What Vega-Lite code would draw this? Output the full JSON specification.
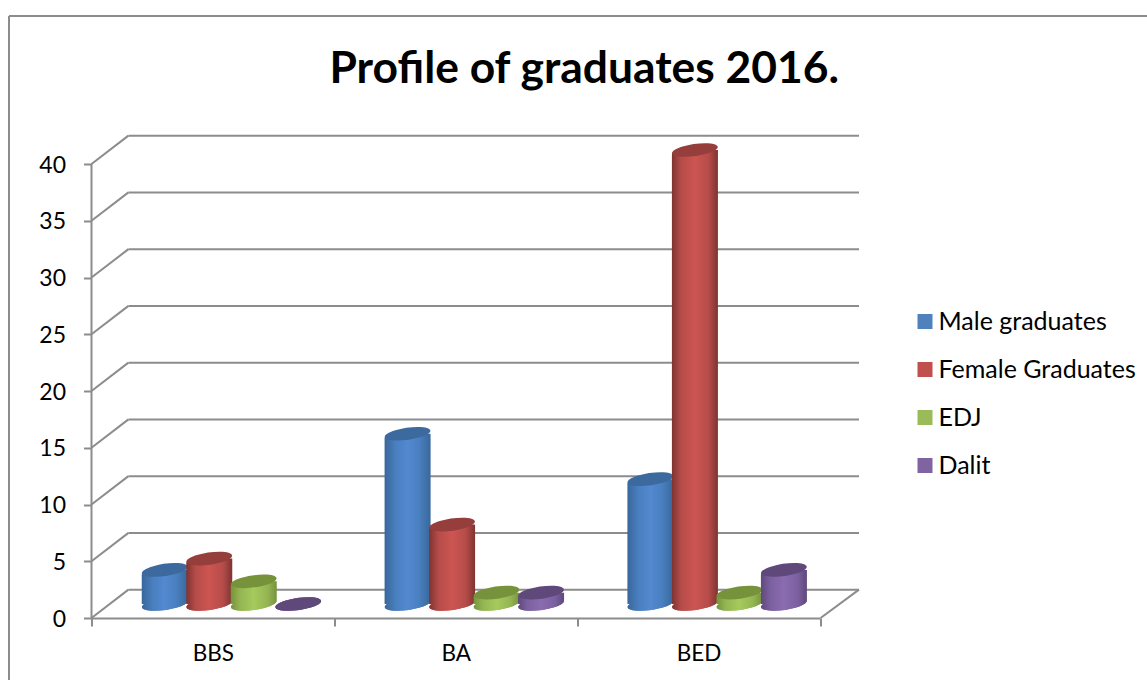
{"$schema":"https://vega.github.io/schema/vega-lite/v6.json","width":767.5,"height":482,"autosize":{"type":"none"},"padding":{"left":91.5,"top":136,"right":288,"bottom":62},"background":"white","title":{"text":"Profile of graduates 2016.","font":"Lato","fontSize":44.4,"fontWeight":"bold","color":"#000000","anchor":"middle","frame":"group","dx":109,"offset":0,"dy":77},"config":{"view":{"stroke":null}},"datasets":{"graduates":[{"category":"BBS","series":"Male graduates","value":3},{"category":"BBS","series":"Female Graduates","value":4},{"category":"BBS","series":"EDJ","value":2},{"category":"BBS","series":"Dalit","value":0},{"category":"BA","series":"Male graduates","value":15},{"category":"BA","series":"Female Graduates","value":7},{"category":"BA","series":"EDJ","value":1},{"category":"BA","series":"Dalit","value":1},{"category":"BED","series":"Male graduates","value":11},{"category":"BED","series":"Female Graduates","value":40},{"category":"BED","series":"EDJ","value":1},{"category":"BED","series":"Dalit","value":3}],"grid":[{"tick":0,"back":2.5},{"tick":5,"back":7.5},{"tick":10,"back":12.5},{"tick":15,"back":17.5},{"tick":20,"back":22.5},{"tick":25,"back":27.5},{"tick":30,"back":32.5},{"tick":35,"back":37.5},{"tick":40,"back":42.5}],"floor":[{"tick":0,"back":2.5}],"frame":[{"left":-0.3395,"right":5,"top":53.04,"bottom":-10}],"axisline":[{"low":0,"high":40}]},"layer":[{"data":{"name":"frame"},"mark":{"type":"rule","color":"#8c8c8c","strokeWidth":2},"encoding":{"x":{"field":"left","type":"quantitative","scale":{"domain":[0,3.158],"range":[0,767.5]},"axis":null},"y":{"field":"top","type":"quantitative","scale":{"domain":[0,42.47],"range":[482,0]},"axis":null},"y2":{"field":"bottom"}}},{"data":{"name":"frame"},"mark":{"type":"rule","color":"#8c8c8c","strokeWidth":2},"encoding":{"x":{"field":"left","type":"quantitative","scale":{"domain":[0,3.158],"range":[0,767.5]},"axis":null},"x2":{"field":"right"},"y":{"field":"top","type":"quantitative","scale":{"domain":[0,42.47],"range":[482,0]},"axis":null}}},{"data":{"name":"grid"},"mark":{"type":"rule","color":"#8c8c8c","strokeWidth":2},"encoding":{"x":{"datum":0,"type":"quantitative","scale":{"domain":[0,3.158],"range":[0,767.5]},"axis":null},"x2":{"datum":0.152},"y":{"field":"tick","type":"quantitative","scale":{"domain":[0,42.47],"range":[482,0]},"axis":{"values":[0,5,10,15,20,25,30,35,40],"title":null,"domain":false,"grid":false,"tickColor":"#8c8c8c","tickWidth":2,"tickSize":8,"labelFont":"Lato","labelFontSize":23,"labelColor":"#000000","labelPadding":18,"labelOffset":1}},"y2":{"field":"back"}}},{"data":{"name":"grid"},"mark":{"type":"rule","color":"#8c8c8c","strokeWidth":2},"encoding":{"x":{"datum":0.152,"type":"quantitative","scale":{"domain":[0,3.158],"range":[0,767.5]},"axis":null},"x2":{"datum":3.158},"y":{"field":"back","type":"quantitative","scale":{"domain":[0,42.47],"range":[482,0]},"axis":null}}},{"data":{"name":"axisline"},"mark":{"type":"rule","color":"#8c8c8c","strokeWidth":2},"encoding":{"x":{"datum":0,"type":"quantitative","scale":{"domain":[0,3.158],"range":[0,767.5]},"axis":null},"y":{"field":"low","type":"quantitative","scale":{"domain":[0,42.47],"range":[482,0]},"axis":null},"y2":{"field":"high"}}},{"data":{"name":"floor"},"mark":{"type":"rule","color":"#8c8c8c","strokeWidth":2},"encoding":{"x":{"datum":3,"type":"quantitative","scale":{"domain":[0,3.158],"range":[0,767.5]},"axis":null},"x2":{"datum":3.158},"y":{"field":"tick","type":"quantitative","scale":{"domain":[0,42.47],"range":[482,0]},"axis":null},"y2":{"field":"back"}}},
{"data":{"name":"graduates"},"mark":{"type":"point","filled":true,"opacity":1,"strokeWidth":0,"size":2116,"shape":"M-0.99,0.14A1,0.26,-8,1,1,0.99,-0.14A1,0.26,-8,1,1,-0.99,0.14Z"},"encoding":{"x":{"field":"category","type":"nominal","sort":null,"scale":{"type":"band","domain":["BBS","BA","BED"],"range":[0,728.5],"paddingInner":0,"paddingOuter":0},"axis":{"title":null,"domainColor":"#8c8c8c","domainWidth":2,"tickColor":"#8c8c8c","tickWidth":2,"tickSize":8,"tickBand":"extent","labelAngle":0,"labelFont":"Lato","labelFontSize":22.5,"labelColor":"#000000","labelPadding":16}},"xOffset":{"field":"series","type":"nominal","scale":{"type":"band","domain":["Male graduates","Female Graduates","EDJ","Dalit"],"range":[51,229],"paddingInner":0,"paddingOuter":0}},"y":{"datum":0,"type":"quantitative","scale":{"domain":[0,42.47],"range":[468,-14]},"axis":null},"color":{"field":"series","type":"nominal","scale":{"domain":["Male graduates","Female Graduates","EDJ","Dalit"],"range":["#4f81bd","#c0504d","#9bbb59","#8064a2"]},"legend":{"title":null,"orient":"none","legendX":821,"legendY":173,"symbolType":"square","symbolSize":225,"symbolStrokeWidth":0,"labelFont":"Lato","labelFontSize":25,"labelColor":"#000000","labelOffset":1,"rowPadding":22,"clipHeight":25,"labelLimit":260}}}},
{"data":{"name":"graduates"},"transform":[{"filter":"datum.series === 'Male graduates'"}],"layer":[
{"mark":{"type":"point","filled":true,"opacity":1,"strokeWidth":0,"size":2116,"shape":"M-0.99,0.14A1,0.26,-8,1,1,0.99,-0.14A1,0.26,-8,1,1,-0.99,0.14Z","fill":{"gradient":"linear","x1":0,"y1":0,"x2":1,"y2":0,"stops":[{"offset":0,"color":"#38679b"},{"offset":0.25,"color":"#4a80c0"},{"offset":0.5,"color":"#5289d0"},{"offset":0.75,"color":"#4a80c0"},{"offset":1,"color":"#38679b"}]}},"encoding":{"y":{"datum":0,"type":"quantitative","scale":{"domain":[0,42.47],"range":[468,-14]},"axis":null}}},
{"mark":{"type":"bar","width":46,"cornerRadiusTopLeft":5,"cornerRadiusBottomRight":5,"fill":{"gradient":"linear","x1":0,"y1":0,"x2":1,"y2":0,"stops":[{"offset":0,"color":"#38679b"},{"offset":0.25,"color":"#4a80c0"},{"offset":0.5,"color":"#5289d0"},{"offset":0.75,"color":"#4a80c0"},{"offset":1,"color":"#38679b"}]}},"encoding":{"y":{"field":"value","type":"quantitative","stack":null,"scale":{"domain":[0,42.47],"range":[468,-14]},"axis":null}}},
{"mark":{"type":"point","filled":true,"opacity":1,"strokeWidth":0,"size":2116,"shape":"M-0.99,0.14A1,0.26,-8,1,1,0.99,-0.14A1,0.26,-8,1,1,-0.99,0.14Z","fill":"#3c6a9e"},"encoding":{"y":{"field":"value","type":"quantitative","scale":{"domain":[0,42.47],"range":[468,-14]},"axis":null}}}],
"encoding":{"x":{"field":"category","type":"nominal","sort":null,"scale":{"type":"band","domain":["BBS","BA","BED"],"range":[0,728.5],"paddingInner":0,"paddingOuter":0},"axis":null},"xOffset":{"field":"series","type":"nominal","scale":{"type":"band","domain":["Male graduates","Female Graduates","EDJ","Dalit"],"range":[51,229],"paddingInner":0,"paddingOuter":0}}}},
{"data":{"name":"graduates"},"transform":[{"filter":"datum.series === 'Female Graduates'"}],"layer":[
{"mark":{"type":"point","filled":true,"opacity":1,"strokeWidth":0,"size":2116,"shape":"M-0.99,0.14A1,0.26,-8,1,1,0.99,-0.14A1,0.26,-8,1,1,-0.99,0.14Z","fill":{"gradient":"linear","x1":0,"y1":0,"x2":1,"y2":0,"stops":[{"offset":0,"color":"#7f3331"},{"offset":0.2,"color":"#b54c49"},{"offset":0.5,"color":"#cd5551"},{"offset":0.8,"color":"#b54c49"},{"offset":1,"color":"#7f3331"}]}},"encoding":{"y":{"datum":0,"type":"quantitative","scale":{"domain":[0,42.47],"range":[468,-14]},"axis":null}}},
{"mark":{"type":"bar","width":46,"cornerRadiusTopLeft":5,"cornerRadiusBottomRight":5,"fill":{"gradient":"linear","x1":0,"y1":0,"x2":1,"y2":0,"stops":[{"offset":0,"color":"#7f3331"},{"offset":0.2,"color":"#b54c49"},{"offset":0.5,"color":"#cd5551"},{"offset":0.8,"color":"#b54c49"},{"offset":1,"color":"#7f3331"}]}},"encoding":{"y":{"field":"value","type":"quantitative","stack":null,"scale":{"domain":[0,42.47],"range":[468,-14]},"axis":null}}},
{"mark":{"type":"point","filled":true,"opacity":1,"strokeWidth":0,"size":2116,"shape":"M-0.99,0.14A1,0.26,-8,1,1,0.99,-0.14A1,0.26,-8,1,1,-0.99,0.14Z","fill":"#953e3b"},"encoding":{"y":{"field":"value","type":"quantitative","scale":{"domain":[0,42.47],"range":[468,-14]},"axis":null}}}],
"encoding":{"x":{"field":"category","type":"nominal","sort":null,"scale":{"type":"band","domain":["BBS","BA","BED"],"range":[0,728.5],"paddingInner":0,"paddingOuter":0},"axis":null},"xOffset":{"field":"series","type":"nominal","scale":{"type":"band","domain":["Male graduates","Female Graduates","EDJ","Dalit"],"range":[51,229],"paddingInner":0,"paddingOuter":0}}}},
{"data":{"name":"graduates"},"transform":[{"filter":"datum.series === 'EDJ'"}],"layer":[
{"mark":{"type":"point","filled":true,"opacity":1,"strokeWidth":0,"size":2116,"shape":"M-0.99,0.14A1,0.26,-8,1,1,0.99,-0.14A1,0.26,-8,1,1,-0.99,0.14Z","fill":{"gradient":"linear","x1":0,"y1":0,"x2":1,"y2":0,"stops":[{"offset":0,"color":"#76933c"},{"offset":0.2,"color":"#94b553"},{"offset":0.5,"color":"#a6ca5c"},{"offset":0.8,"color":"#94b553"},{"offset":1,"color":"#76933c"}]}},"encoding":{"y":{"datum":0,"type":"quantitative","scale":{"domain":[0,42.47],"range":[468,-14]},"axis":null}}},
{"mark":{"type":"bar","width":46,"cornerRadiusTopLeft":5,"cornerRadiusBottomRight":5,"fill":{"gradient":"linear","x1":0,"y1":0,"x2":1,"y2":0,"stops":[{"offset":0,"color":"#76933c"},{"offset":0.2,"color":"#94b553"},{"offset":0.5,"color":"#a6ca5c"},{"offset":0.8,"color":"#94b553"},{"offset":1,"color":"#76933c"}]}},"encoding":{"y":{"field":"value","type":"quantitative","stack":null,"scale":{"domain":[0,42.47],"range":[468,-14]},"axis":null}}},
{"mark":{"type":"point","filled":true,"opacity":1,"strokeWidth":0,"size":2116,"shape":"M-0.99,0.14A1,0.26,-8,1,1,0.99,-0.14A1,0.26,-8,1,1,-0.99,0.14Z","fill":"#76933c"},"encoding":{"y":{"field":"value","type":"quantitative","scale":{"domain":[0,42.47],"range":[468,-14]},"axis":null}}}],
"encoding":{"x":{"field":"category","type":"nominal","sort":null,"scale":{"type":"band","domain":["BBS","BA","BED"],"range":[0,728.5],"paddingInner":0,"paddingOuter":0},"axis":null},"xOffset":{"field":"series","type":"nominal","scale":{"type":"band","domain":["Male graduates","Female Graduates","EDJ","Dalit"],"range":[51,229],"paddingInner":0,"paddingOuter":0}}}},
{"data":{"name":"graduates"},"transform":[{"filter":"datum.series === 'Dalit'"}],"layer":[
{"mark":{"type":"point","filled":true,"opacity":1,"strokeWidth":0,"size":2116,"shape":"M-0.99,0.14A1,0.26,-8,1,1,0.99,-0.14A1,0.26,-8,1,1,-0.99,0.14Z","fill":{"gradient":"linear","x1":0,"y1":0,"x2":1,"y2":0,"stops":[{"offset":0,"color":"#5f497a"},{"offset":0.2,"color":"#7b60a0"},{"offset":0.5,"color":"#8a6cb0"},{"offset":0.8,"color":"#7b60a0"},{"offset":1,"color":"#5f497a"}]}},"encoding":{"y":{"datum":0,"type":"quantitative","scale":{"domain":[0,42.47],"range":[468,-14]},"axis":null}}},
{"mark":{"type":"bar","width":46,"cornerRadiusTopLeft":5,"cornerRadiusBottomRight":5,"fill":{"gradient":"linear","x1":0,"y1":0,"x2":1,"y2":0,"stops":[{"offset":0,"color":"#5f497a"},{"offset":0.2,"color":"#7b60a0"},{"offset":0.5,"color":"#8a6cb0"},{"offset":0.8,"color":"#7b60a0"},{"offset":1,"color":"#5f497a"}]}},"encoding":{"y":{"field":"value","type":"quantitative","stack":null,"scale":{"domain":[0,42.47],"range":[468,-14]},"axis":null}}},
{"mark":{"type":"point","filled":true,"opacity":1,"strokeWidth":0,"size":2116,"shape":"M-0.99,0.14A1,0.26,-8,1,1,0.99,-0.14A1,0.26,-8,1,1,-0.99,0.14Z","fill":"#5f497a"},"encoding":{"y":{"field":"value","type":"quantitative","scale":{"domain":[0,42.47],"range":[468,-14]},"axis":null}}}],
"encoding":{"x":{"field":"category","type":"nominal","sort":null,"scale":{"type":"band","domain":["BBS","BA","BED"],"range":[0,728.5],"paddingInner":0,"paddingOuter":0},"axis":null},"xOffset":{"field":"series","type":"nominal","scale":{"type":"band","domain":["Male graduates","Female Graduates","EDJ","Dalit"],"range":[51,229],"paddingInner":0,"paddingOuter":0}}}}
],"resolve":{"scale":{"x":"independent","y":"independent","color":"independent"}}}
